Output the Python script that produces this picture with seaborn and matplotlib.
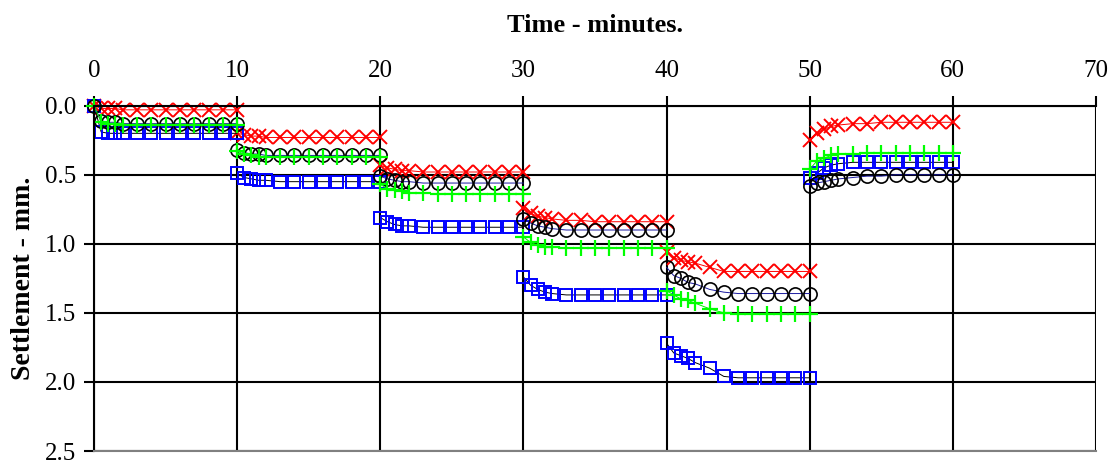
import numpy as np
import pandas as pd
import matplotlib
matplotlib.use("Agg")
import matplotlib.pyplot as plt
import seaborn as sns

# Readings within each loading stage (minutes after the stage starts)
stage_minutes = [0, 0.5, 1, 1.5, 2, 3, 4, 5, 6, 7, 8, 9, 10]
stage_starts = [0, 10, 20, 30, 40, 50]

# Settlement (mm) per stage, one list per stage
red_x = [
    [0.00, 0.02, 0.02, 0.02, 0.03, 0.03, 0.03, 0.03, 0.03, 0.03, 0.03, 0.03, 0.03],
    [0.20, 0.21, 0.22, 0.22, 0.23, 0.23, 0.23, 0.23, 0.23, 0.23, 0.23, 0.23, 0.23],
    [0.43, 0.45, 0.46, 0.47, 0.47, 0.48, 0.48, 0.48, 0.48, 0.48, 0.48, 0.48, 0.48],
    [0.74, 0.78, 0.80, 0.81, 0.82, 0.83, 0.83, 0.84, 0.84, 0.84, 0.84, 0.84, 0.84],
    [1.06, 1.10, 1.12, 1.13, 1.14, 1.17, 1.20, 1.20, 1.20, 1.20, 1.20, 1.20, 1.20],
    [0.25, 0.20, 0.17, 0.15, 0.14, 0.13, 0.13, 0.12, 0.12, 0.12, 0.12, 0.12, 0.12],
]
black_o = [
    [0.00, 0.11, 0.12, 0.12, 0.13, 0.13, 0.13, 0.13, 0.13, 0.13, 0.13, 0.13, 0.13],
    [0.32, 0.34, 0.35, 0.35, 0.36, 0.36, 0.36, 0.36, 0.36, 0.36, 0.36, 0.36, 0.36],
    [0.51, 0.53, 0.54, 0.55, 0.55, 0.56, 0.56, 0.56, 0.56, 0.56, 0.56, 0.56, 0.56],
    [0.82, 0.85, 0.87, 0.88, 0.89, 0.90, 0.90, 0.90, 0.90, 0.90, 0.90, 0.90, 0.90],
    [1.17, 1.23, 1.25, 1.28, 1.29, 1.33, 1.35, 1.36, 1.36, 1.36, 1.36, 1.36, 1.36],
    [0.58, 0.56, 0.55, 0.54, 0.53, 0.52, 0.51, 0.51, 0.50, 0.50, 0.50, 0.50, 0.50],
]
green_plus = [
    [0.00, 0.12, 0.13, 0.13, 0.14, 0.14, 0.14, 0.14, 0.14, 0.14, 0.14, 0.14, 0.14],
    [0.33, 0.35, 0.36, 0.37, 0.37, 0.37, 0.37, 0.37, 0.37, 0.37, 0.37, 0.37, 0.37],
    [0.57, 0.60, 0.61, 0.62, 0.63, 0.63, 0.64, 0.64, 0.64, 0.64, 0.64, 0.64, 0.64],
    [0.95, 0.99, 1.01, 1.02, 1.02, 1.03, 1.03, 1.03, 1.03, 1.03, 1.03, 1.03, 1.03],
    [1.34, 1.37, 1.40, 1.41, 1.43, 1.47, 1.50, 1.51, 1.51, 1.51, 1.51, 1.51, 1.51],
    [0.46, 0.40, 0.38, 0.36, 0.35, 0.35, 0.34, 0.34, 0.34, 0.34, 0.34, 0.34, 0.34],
]
blue_sq = [
    [0.00, 0.19, 0.20, 0.20, 0.20, 0.20, 0.20, 0.20, 0.20, 0.20, 0.20, 0.20, 0.20],
    [0.49, 0.52, 0.53, 0.54, 0.54, 0.55, 0.55, 0.55, 0.55, 0.55, 0.55, 0.55, 0.55],
    [0.81, 0.84, 0.86, 0.87, 0.87, 0.88, 0.88, 0.88, 0.88, 0.88, 0.88, 0.88, 0.88],
    [1.24, 1.30, 1.33, 1.35, 1.36, 1.37, 1.37, 1.37, 1.37, 1.37, 1.37, 1.37, 1.37],
    [1.72, 1.79, 1.81, 1.83, 1.86, 1.90, 1.96, 1.97, 1.97, 1.97, 1.97, 1.97, 1.97],
    [0.52, 0.49, 0.45, 0.43, 0.42, 0.41, 0.41, 0.41, 0.41, 0.41, 0.41, 0.41, 0.41],
]

x_ticks = [0, 10, 20, 30, 40, 50, 60, 70]
y_ticks = [0.0, 0.5, 1.0, 1.5, 2.0, 2.5]


def to_frame(stages):
    rows = []
    for k, (start, vals) in enumerate(zip(stage_starts, stages)):
        for m, v in zip(stage_minutes, vals):
            rows.append({"time": start + m, "settlement": v, "stage": k})
    return pd.DataFrame(rows)


sns.set_style("white")
plt.rcParams["font.family"] = ["Liberation Serif", "DejaVu Serif"]
plt.rcParams["text.color"] = "black"
plt.rcParams["axes.labelcolor"] = "black"
plt.rcParams["xtick.color"] = "black"
plt.rcParams["ytick.color"] = "black"

fig = plt.figure(figsize=(11.11, 4.65), dpi=100)
ax = fig.add_axes([94 / 1111, 1 - 451 / 465, (1096 - 94) / 1111, (451 - 105.7) / 465])

series = [
    (red_x, dict(color="#ff0000", marker="x", markeredgecolor="#ff0000",
                 markersize=10, markeredgewidth=1.4)),
    (blue_sq, dict(color="#000000", marker="s", markeredgecolor="#0000ff",
                   markerfacecolor="none", markersize=9, markeredgewidth=1.4)),
    (black_o, dict(color="#1a1aa0", marker="o", markeredgecolor="#000000",
                   markerfacecolor="none", markersize=9.5, markeredgewidth=1.2)),
    (green_plus, dict(color="#00ee00", marker="+", markeredgecolor="#00ff00",
                      markersize=11, markeredgewidth=1.6)),
]

for stages, style in series:
    df = to_frame(stages)
    sns.lineplot(data=df, x="time", y="settlement", units="stage",
                 estimator=None, sort=False, linewidth=0.7, legend=False,
                 ax=ax, clip_on=False, **style)

ax.set_xlim(0, 70)
ax.set_ylim(2.5, 0)
ax.set_xticks(x_ticks)
ax.set_yticks(y_ticks)
ax.set_yticklabels([f"{v:.1f}" for v in y_ticks])
ax.xaxis.tick_top()
ax.xaxis.set_label_position("top")

ax.grid(True, color="black", linewidth=1.5)
ax.set_axisbelow(True)
for side in ["top", "left"]:
    ax.spines[side].set_color("black")
    ax.spines[side].set_linewidth(1.5)
ax.spines["right"].set_visible(False)
ax.spines["bottom"].set_color("#808080")
ax.spines["bottom"].set_linewidth(1.5)

ax.tick_params(axis="both", direction="out", length=7, width=1.5,
               color="black", labelsize=18)
ax.tick_params(axis="x", top=True, bottom=False, pad=10)
ax.tick_params(axis="y", left=True, pad=6)

ax.set_xlabel("Time - minutes.", fontsize=19, fontweight="bold", labelpad=20)
ax.set_ylabel("Settlement - mm.", fontsize=20, fontweight="bold", labelpad=6)

fig.savefig("out.png", dpi=100)
